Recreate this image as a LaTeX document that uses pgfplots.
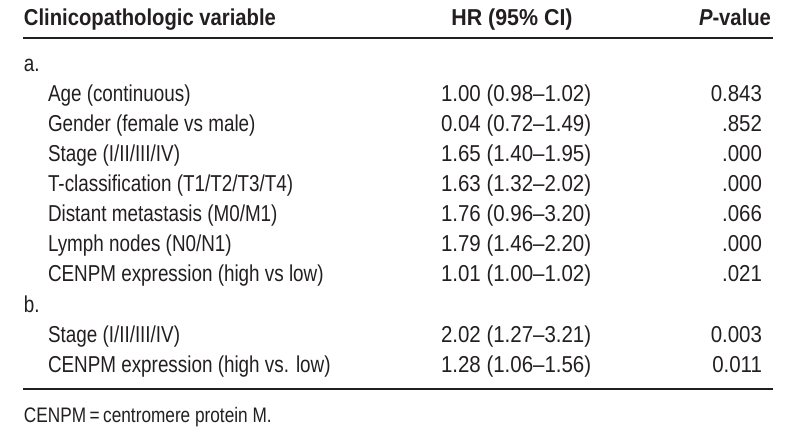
\documentclass[border=0pt]{standalone}
\usepackage{pgfplots}
\pgfplotsset{compat=1.18}
\usepackage{fontspec}
\setmainfont{Liberation Sans}[FakeStretch=0.82, BoldFeatures={FakeStretch=0.88}, BoldItalicFeatures={FakeStretch=0.88}]
\newfontfamily\numfont{Liberation Sans}[Ligatures=TeX, FakeStretch=0.89, BoldFeatures={FakeStretch=0.93}]
\definecolor{ink}{HTML}{231F20}
\newcommand{\row}[4]{%
  \node[anchor=base west] at (axis cs:48,#1) {#2};
  \node[anchor=base west] at (axis cs:441,#1) {\numfont #3};
  \node[anchor=base east] at (axis cs:762,#1) {\numfont #4};}
\begin{document}
\begin{tikzpicture}
\begin{axis}[
  scale only axis, width=400pt, height=221.5pt,
  xmin=0, xmax=800, ymin=0, ymax=443, y dir=reverse,
  hide axis, clip=false,
]
\path (axis cs:0,0) rectangle (axis cs:800,443);
\begin{scope}[every node/.style={inner sep=0pt, outer sep=0pt, text=ink, font=\fontsize{11.5}{13}\selectfont}]
% header
\node[anchor=base west] at (axis cs:24,26) {\bfseries Clinicopathologic variable};
\node[anchor=base] at (axis cs:512,26) {\numfont\bfseries HR (95\% CI)};
\node[anchor=base east] at (axis cs:771,26) {\bfseries\itshape P\upshape-value};
\draw[ink, line width=1pt] (axis cs:23,38) -- (axis cs:773,38);
% section a
\node[anchor=base west] at (axis cs:24,71.5) {a.};
\row{101.7}{Age (continuous)}{1.00 (0.98--1.02)}{0.843}
\row{131.7}{Gender (female vs male)}{0.04 (0.72--1.49)}{.852}
\row{161.7}{Stage (I/II/III/IV)}{1.65 (1.40--1.95)}{.000}
\row{191.7}{T-classification (T1/T2/T3/T4)}{1.63 (1.32--2.02)}{.000}
\row{221.7}{Distant metastasis (M0/M1)}{1.76 (0.96--3.20)}{.066}
\row{251.7}{Lymph nodes (N0/N1)}{1.79 (1.46--2.20)}{.000}
\row{281.7}{CENPM expression (high vs low)}{1.01 (1.00--1.02)}{.021}
% section b
\node[anchor=base west] at (axis cs:24,312.5) {b.};
\row{342.5}{Stage (I/II/III/IV)}{2.02 (1.27--3.21)}{0.003}
\row{373}{CENPM expression (high vs. low)}{1.28 (1.06--1.56)}{0.011}
\draw[ink, line width=1pt] (axis cs:23,389) -- (axis cs:773,389);
\node[anchor=base west] at (axis cs:24,423) {\fontsize{10.5}{12}\selectfont CENPM\,=\,centromere protein M.};
\end{scope}
\end{axis}
\end{tikzpicture}
\end{document}
